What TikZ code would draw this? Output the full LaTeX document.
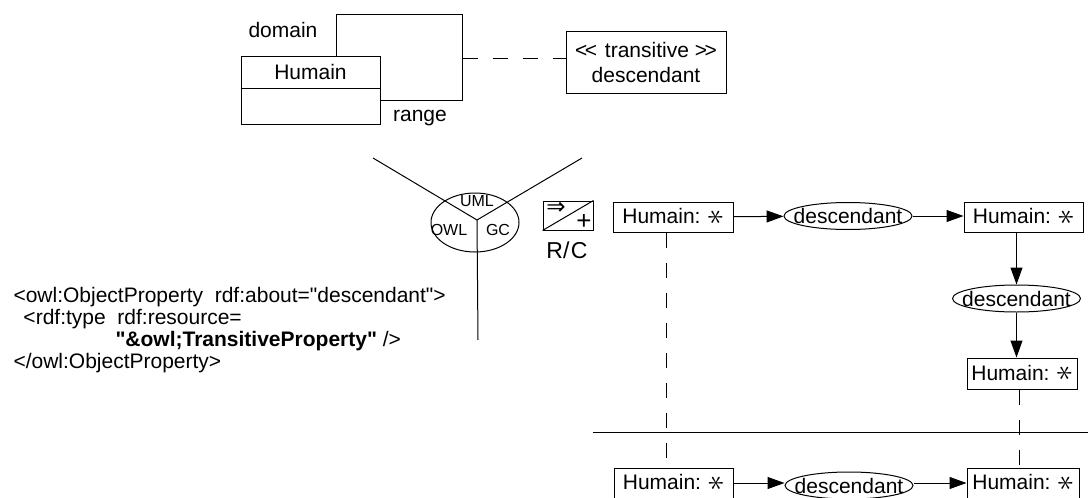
\documentclass[tikz,border=0pt]{standalone}
\usepackage{fontspec}
\setmainfont{Liberation Sans}
\newfontfamily\symfont{DejaVu Sans}
\usepackage{graphicx}
\usetikzlibrary{shapes.geometric,arrows.meta}
\newcommand{\hstar}{\raisebox{-0.15ex}{\scalebox{1.5}{\rotatebox{90}{$\ast$}}}}
\newcommand{\dq}{\textquotedbl}
\begin{document}
\begin{tikzpicture}[x=0.5pt,y=-0.5pt,
  line width=0.5pt,
  every node/.style={font=\fontsize{10.5}{12.5}\selectfont, inner sep=0pt},
  box/.style={draw, fill=white, minimum height=15pt},
  oval/.style={draw, ellipse, minimum width=64pt, minimum height=13.5pt,
    label={[font=\fontsize{10.5}{12.5}\selectfont, inner sep=0pt]center:descendant}},
  arr/.style={-{Triangle[length=8.5pt,width=6pt]}},
  dsh/.style={dash pattern=on 7.5pt off 7.5pt},
  small/.style={font=\fontsize{8}{9}\selectfont}]
\useasboundingbox (0,0) rectangle (1088,498);

% UML part
\node[draw, minimum width=63pt, minimum height=43pt] (back) at (399,57) {};
\node[draw, fill=white, minimum width=69.5pt, minimum height=34pt] (cls) at (310.5,90) {};
\draw (cls.west |- 0,88) -- (cls.east |- 0,88);
\node (clsname) at (310.5,72) {Humain};
\node (domain) at (283,30) {domain};
\node (range) at (420,118) {range};
\node[draw, minimum width=80pt, minimum height=31pt, align=center] (trans) at (646,62)
  {<\kern-1.2pt{}<\kern1pt{} transitive >\kern-1.2pt{}>\\ descendant};
\draw[dsh] (back.east |- 0,58) -- (trans.west |- 0,58);

% triple circle
\node[draw, ellipse, minimum width=44pt, minimum height=29.5pt] (tri) at (475,222.5) {};
\coordinate (junc) at (477,220);
\coordinate (ul) at (373,158);
\coordinate (ur) at (582,158);
\coordinate (dn) at (478,340);
\draw (ul) -- (junc) -- (ur);
\draw (junc) -- (dn);
\node[small] (uml) at (477,201) {UML};
\node[small] (owl) at (449,230) {OWL};
\node[small] (gc) at (498,230) {GC};

% R/C icon
\node[draw, minimum width=25pt, minimum height=14.5pt] (rc) at (568,215.5) {};
\draw (rc.south west) -- (rc.north east);
\node[font=\fontsize{11.5}{11.5}\selectfont\symfont] (impl) at (556,208.5) {⇒};
\node[font=\fontsize{13}{13}\selectfont] (plus) at (584,222) {+};
\node[font=\fontsize{11.5}{12}\selectfont] (rclab) at (567,250) {R/\kern0.8pt C};

% code
\node[anchor=base west] (c1) at (13,302) {<owl:ObjectProperty\ \ rdf:about=\dq descendant\dq>};
\node[anchor=base west] (c2) at (23,324) {<rdf:type\ \ rdf:resource=};
\node[anchor=base west] (c3) at (115,346) {\textbf{\dq\&owl;TransitiveProperty\dq} />};
\node[anchor=base west] (c4) at (13,368) {</owl:ObjectProperty>};

% graph part
\node[box, minimum width=60pt] (h1) at (673,217) {Humain: \hstar};
\node[oval] (d1) at (848,216) {};
\node[box, minimum width=59.5pt] (h2) at (1023.5,217) {Humain: \hstar};
\node[oval] (d2) at (1016.5,298.5) {};
\node[box, minimum width=55pt, minimum height=15.5pt] (h3) at (1022,373.5) {Humain: \hstar};
\node[box, minimum width=59.5pt] (h4) at (673.5,483) {Humain: \hstar};
\node[oval] (d3) at (849,485.5) {};
\node[box, minimum width=56pt] (h5) at (1023,483) {Humain: \hstar};

\draw[arr] (h1) -- (d1);
\draw[arr] (d1) -- (h2.west |- d1);
\draw[arr] (h2.south -| d2) -- (d2);
\draw[arr] (d2) -- (h3.north -| d2);
\draw[arr] (h4.east |- 0,483) -- (d3.west |- 0,483);
\draw[arr] (d3.east |- 0,483) -- (h5.west |- 0,483);

\coordinate (sepl) at (593,432);
\coordinate (sepr) at (1088,432);
\draw (sepl) -- (sepr);

\draw[dsh] (h1.south -| 666,0) -- (h4.north -| 666,0);
\draw[dsh] (h3.south -| 1019,0) -- (h5.north -| 1019,0);
\end{tikzpicture}
\end{document}
